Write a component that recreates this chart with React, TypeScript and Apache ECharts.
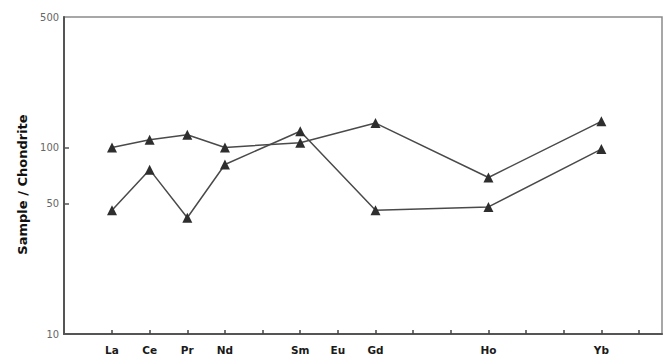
import { useEffect, useRef } from "react";
import * as echarts from "echarts";

// Rare earth elements in atomic order along the x axis
const elements = ["La", "Ce", "Pr", "Nd", "Pm", "Sm", "Eu", "Gd", "Tb", "Dy", "Ho", "Er", "Tm", "Yb", "Lu"];
const labelledElements = ["La", "Ce", "Pr", "Nd", "Sm", "Eu", "Gd", "Ho", "Yb"];
const analysedElements = ["La", "Ce", "Pr", "Nd", "Sm", "Gd", "Ho", "Yb"];

// Chondrite-normalised abundances for the two samples
const sampleA = [100, 110, 117, 100, 106, 135, 69, 138];
const sampleB = [46, 76, 42, 81, 122, 46, 48, 98];

const yTickLabels = [10, 50, 100, 500];
const yTickMarks = [50, 100];

const toPoints = (values: number[]) =>
  analysedElements.map((el, k) => [elements.indexOf(el), values[k]]);

export default function App() {
  const ref = useRef<HTMLDivElement>(null);

  useEffect(() => {
    if (!ref.current) return;
    const chart = echarts.init(ref.current, undefined, { renderer: "svg" });

    const lineStyle = { color: "#4a4a4a", width: 1.5 };
    const itemStyle = { color: "#2e2e2e" };

    chart.setOption({
      animation: false,
      backgroundColor: "#ffffff",
      grid: {
        left: 64,
        right: 4,
        top: 17,
        bottom: 25,
        show: true,
        borderColor: "#8a8a8a",
        borderWidth: 1.5,
      },
      xAxis: {
        type: "value",
        min: -1.275,
        max: 14.61,
        splitLine: { show: false },
        axisLine: { onZero: false, lineStyle: { color: "#555", width: 2 } },
        axisTick: {
          inside: true,
          length: 4,
          customValues: elements.map((_, i) => i),
          lineStyle: { color: "#444", width: 1.5 },
        },
        axisLabel: {
          customValues: labelledElements.map((el) => elements.indexOf(el)),
          formatter: (v: number) => elements[Math.round(v)] ?? "",
          color: "#1a1a1a",
          fontFamily: "DejaVu Sans",
          fontWeight: "bold",
          fontSize: 10.5,
          margin: 10,
        },
      },
      yAxis: {
        type: "log",
        logBase: 10,
        min: 10,
        max: 500,
        name: "Sample / Chondrite",
        nameLocation: "middle",
        nameGap: 34,
        nameRotate: 90,
        nameTextStyle: {
          color: "#111",
          fontFamily: "DejaVu Sans",
          fontWeight: "bold",
          fontSize: 13,
          padding: [0, 18, 0, 0],
        },
        splitLine: { show: false },
        axisLine: { show: true, onZero: false, lineStyle: { color: "#555", width: 2 } },
        axisTick: {
          inside: true,
          length: 5,
          customValues: yTickMarks,
          lineStyle: { color: "#555", width: 1.5 },
        },
        axisLabel: {
          customValues: yTickLabels,
          formatter: (v: number) => String(Math.round(v)),
          color: "#666",
          fontFamily: "DejaVu Sans Condensed, Liberation Sans Narrow, sans-serif",
          fontSize: 11,
          margin: 5,
        },
      },
      series: [
        {
          type: "line",
          data: toPoints(sampleA),
          symbol: "triangle",
          symbolSize: 10,
          lineStyle,
          itemStyle,
        },
        {
          type: "line",
          data: toPoints(sampleB),
          symbol: "triangle",
          symbolSize: 10,
          lineStyle,
          itemStyle,
        },
      ],
    });

    return () => chart.dispose();
  }, []);

  return <div ref={ref} style={{ width: 666, height: 359, position: "absolute", left: 0, top: 0 }} />;
}
